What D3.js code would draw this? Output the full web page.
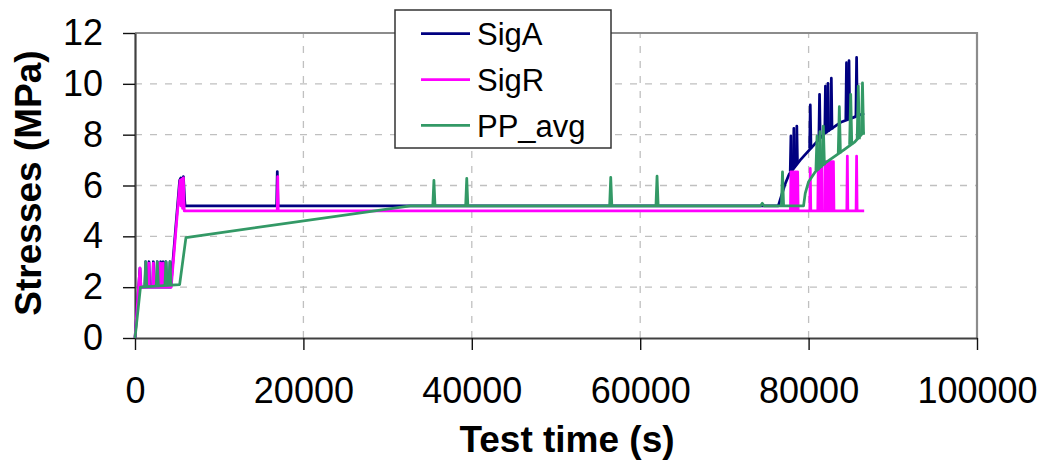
<!DOCTYPE html>
<html>
<head>
<meta charset="utf-8">
<script src="https://cdn.jsdelivr.net/npm/d3@7"></script>
<style>
  html, body { margin: 0; padding: 0; background: #fff; }
  svg { display: block; font-family: "Liberation Sans", Arial, sans-serif; }
</style>
</head>
<body>
<div id="chart"></div>
<script>
// Tick values
const xTicks = [0, 20000, 40000, 60000, 80000, 100000];
const yTicks = [0, 2, 4, 6, 8, 10, 12];

// Series: trend points [time s, MPa] and spikes [time s, base MPa, peak MPa]
const sigATrend = [
  [0, 0], [590, 2.75], [700, 2.0], [4250, 2.0], [5300, 6.2], [5450, 6.3], [5600, 6.1], [5750, 6.35],
  [5900, 5.4], [5950, 5.2], [76400, 5.2], [77200, 6.05], [77700, 6.45], [79000, 7.0], [80100, 7.4],
  [81900, 8.05], [83900, 8.5], [85500, 8.7], [86600, 8.84]
];
const sigASpikes = [
  [1270, 2.0, 3.0], [1660, 2.0, 3.0], [2180, 2.0, 3.0], [2650, 2.0, 3.0], [3050, 2.0, 3.0],
  [3360, 2.0, 3.0], [3680, 2.0, 3.0], [4160, 2.0, 3.0],
  [16900, 5.2, 6.55],
  [77900, 6.55, 7.95], [78250, 6.7, 8.25], [78600, 6.85, 8.34], [80200, 7.45, 9.17], [81300, 7.85, 9.59],
  [82000, 8.05, 9.91], [82300, 8.12, 10.02], [82700, 8.2, 10.22], [84500, 8.6, 10.83],
  [84800, 8.63, 10.91], [85700, 8.72, 11.04]
];

const sigRTrend = [
  [0, 0], [590, 2.75], [700, 2.0], [4300, 2.0], [5350, 6.2], [5450, 5.2], [5550, 6.25], [5650, 5.1],
  [5750, 6.3], [5850, 5.0], [86600, 5.0]
];
const sigRSpikes = [
  [1270, 2.0, 2.95], [1660, 2.0, 2.95], [2180, 2.0, 2.95], [2650, 2.0, 2.95], [2850, 2.0, 2.95],
  [3050, 2.0, 2.95], [3360, 2.0, 2.95],
  [16950, 5.0, 6.35],
  [77900, 5.0, 6.54], [78100, 5.0, 6.54], [78300, 5.0, 6.54], [78500, 5.0, 6.54], [78700, 5.0, 6.54],
  [80200, 5.0, 6.67], [81150, 5.0, 6.8], [81350, 5.0, 6.8], [81550, 5.0, 6.8],
  [81950, 5.0, 6.94], [82150, 5.0, 6.94], [82350, 5.0, 6.94], [82550, 5.0, 6.94], [82750, 5.0, 6.94],
  [82950, 5.0, 6.94], [84600, 5.0, 7.16], [85700, 5.0, 7.16]
];

const ppTrend = [
  [0, 0], [650, 2.0], [5300, 2.1], [6050, 3.95], [32700, 5.2], [74300, 5.2], [74500, 5.3], [74700, 5.2],
  [79400, 5.2], [79600, 5.69], [80000, 6.15], [80800, 6.54], [81900, 6.87], [83900, 7.33],
  [85500, 7.72], [86600, 8.12]
];
const ppSpikes = [
  [1270, 2.0, 3.0], [2650, 2.05, 3.0], [3680, 2.05, 3.0], [4160, 2.05, 3.0],
  [35500, 5.2, 6.2], [39400, 5.2, 6.28], [56500, 5.2, 6.32], [62000, 5.2, 6.37],
  [76900, 5.2, 6.54], [81000, 6.6, 7.95], [81350, 6.7, 8.12], [81750, 6.8, 8.34], [83650, 7.27, 9.1],
  [85000, 7.6, 9.59], [85900, 7.82, 9.91], [86400, 8.0, 10.04]
];

const seriesNames = ["SigA", "SigR", "PP_avg"];
const seriesColors = ["#000080", "#ff00ff", "#339966"];

// Layout
const W = 1044, H = 463;
const plot = { left: 135, right: 977, top: 33, bottom: 338 };

const svg = d3.select("#chart").append("svg")
  .attr("width", W).attr("height", H);

svg.append("rect").attr("width", W).attr("height", H).attr("fill", "#fff");

const x = d3.scaleLinear().domain([0, 100000]).range([plot.left, plot.right]);
const y = d3.scaleLinear().domain([0, 12]).range([plot.bottom, plot.top]);

// Grid
svg.append("g").selectAll("line")
  .data(yTicks.slice(1, -1)).join("line")
  .attr("x1", x(0)).attr("x2", x(100000))
  .attr("y1", d => y(d)).attr("y2", d => y(d))
  .attr("stroke", "#c0c0c0").attr("stroke-width", 1.3).attr("stroke-dasharray", "7,8");

svg.append("g").selectAll("line")
  .data(xTicks.slice(1, -1)).join("line")
  .attr("x1", d => x(d)).attr("x2", d => x(d))
  .attr("y1", y(0)).attr("y2", y(12))
  .attr("stroke", "#c0c0c0").attr("stroke-width", 1.3).attr("stroke-dasharray", "7,8");

// Plot frame (top / right)
svg.append("path")
  .attr("d", `M${x(0)},${y(12)}H${x(100000)}V${y(0)}`)
  .attr("fill", "none").attr("stroke", "#8c8c8c").attr("stroke-width", 2.2);

// Axes
const xAxis = svg.append("g")
  .attr("transform", `translate(0,${y(0)})`)
  .call(d3.axisBottom(x).tickValues(xTicks).tickFormat(d3.format("d"))
    .tickSize(12).tickSizeOuter(0).tickPadding(27));

const yAxis = svg.append("g")
  .attr("transform", `translate(${x(0)},0)`)
  .call(d3.axisLeft(y).tickValues(yTicks).tickFormat(d3.format("d"))
    .tickSize(12).tickSizeOuter(0).tickPadding(20));

[xAxis, yAxis].forEach(axis => {
  axis.select(".domain").attr("stroke", "#404040").attr("stroke-width", 2.2);
  axis.selectAll(".tick line").attr("stroke", "#111").attr("stroke-width", 1.4);
  axis.selectAll("text")
    .style("font-family", '"Liberation Sans", Arial, sans-serif')
    .style("font-size", "36px")
    .attr("fill", "#000");
});

// Axis titles
svg.append("text")
  .attr("x", 567).attr("y", 452)
  .attr("text-anchor", "middle")
  .style("font-size", "37px").style("font-weight", "700")
  .text("Test time (s)");

svg.append("text")
  .attr("transform", "translate(41,183) rotate(-90)")
  .attr("text-anchor", "middle")
  .style("font-size", "37px").style("font-weight", "700")
  .text("Stresses (MPa)");

// Series lines
const line = d3.line().x(d => x(d[0])).y(d => y(d[1]));
const spikeHalf = [80, 60, 130]; // half-width of spikes in seconds per series

const trends = [sigATrend, sigRTrend, ppTrend];
const spikes = [sigASpikes, sigRSpikes, ppSpikes];

trends.forEach((trend, i) => {
  const g = svg.append("g")
    .attr("fill", "none")
    .attr("stroke", seriesColors[i])
    .attr("stroke-width", 2.75)
    .attr("stroke-linejoin", "round");
  g.append("path").datum(trend).attr("d", line);
  g.selectAll(".spike")
    .data(spikes[i]).join("path")
    .attr("class", "spike")
    .attr("d", s => line([[s[0] - spikeHalf[i], s[1]], [s[0], s[2]], [s[0] + spikeHalf[i], s[1]]]));
});

// Legend
const legend = svg.append("g");
legend.append("rect")
  .attr("x", 395).attr("y", 10).attr("width", 216).attr("height", 138)
  .attr("fill", "#fff").attr("stroke", "#333").attr("stroke-width", 1.5);

seriesNames.forEach((name, i) => {
  const ly = 33.7 + i * 45.8;
  legend.append("line")
    .attr("x1", 421).attr("x2", 470).attr("y1", ly).attr("y2", ly)
    .attr("stroke", seriesColors[i]).attr("stroke-width", 2.75);
  legend.append("text")
    .attr("x", 477).attr("y", ly + 11.5)
    .style("font-size", "31px")
    .text(name);
});
</script>
</body>
</html>
